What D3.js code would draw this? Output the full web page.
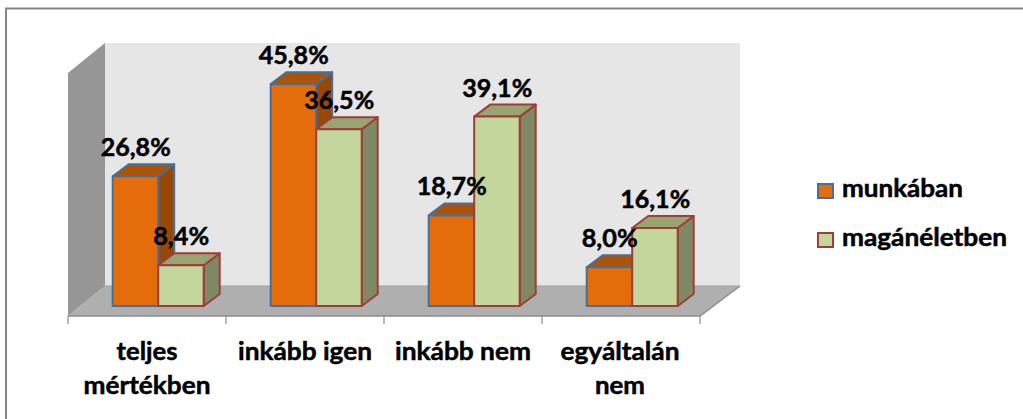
<!DOCTYPE html>
<html><head><meta charset="utf-8">
<script src="https://cdn.jsdelivr.net/npm/d3@7"></script>
<style>html,body{margin:0;background:#fff}svg{display:block}text{font-family:Lato,sans-serif;font-weight:700;fill:#000;stroke:#000;stroke-width:.5px}</style>
</head><body><svg id="c" width="1023" height="419"></svg>
<script>
const categories=[["teljes","mértékben"],["inkább igen"],["inkább nem"],["egyáltalán","nem"]];
const categoryCenters=[147,305,463,620];
const seriesNames=["munkában","magánéletben"];
const munkaban=[26.8,45.8,18.7,8.0];
const maganeletben=[8.4,36.5,39.1,16.1];
const labels1=["26,8%","45,8%","18,7%","8,0%"];
const labels2=["8,4%","36,5%","39,1%","16,1%"];
const svg=d3.select("#c");
const x=d3.scaleBand().domain(d3.range(4)).range([68,700]);
const y=d3.scaleLinear().domain([0,50]).range([306,63.8]);
const bw=45.5,ddx=16,ddy=12;
svg.append("path").attr("d","M6,419V8.5H1023").attr("fill","none").attr("stroke","#868686").attr("stroke-width",2);
const poly=(pts,f,s,sw)=>svg.append("polygon").attr("points",pts.map(p=>p.join(",")).join(" ")).attr("fill",f).attr("stroke",s||"none").attr("stroke-width",sw||0).attr("stroke-linejoin","round");
poly([[105,43],[740,43],[740,286],[105,286]],"#e6e6e6");
poly([[68,73],[105,43],[105,286],[68,316]],"#969696");
poly([[68,316],[105,286],[740,286],[700,316]],"#afafaf");
svg.append("path").attr("d","M68,316H700L740,286").attr("fill","none").attr("stroke","#8c8c8c").attr("stroke-width",1.5);
svg.append("path").attr("d","M105,286H740").attr("fill","none").attr("stroke","#a0a0a0");
d3.range(5).forEach(i=>{const px=i<4?x(i):x.range()[1];
 svg.append("line").attr("x1",px).attr("x2",px).attr("y1",316).attr("y2",324).attr("stroke","#8c8c8c").attr("stroke-width",1.2);});
function bar(x0,v,front,top,side,stroke){
 const t=y(v),b=y(0),x1=x0+bw;
 poly([[x1,t],[x1+ddx,t-ddy],[x1+ddx,b-ddy],[x1,b]],side,stroke,2);
 poly([[x0,t],[x0+ddx,t-ddy],[x1+ddx,t-ddy],[x1,t]],top,stroke,2);
 poly([[x0,t],[x1,t],[x1,b],[x0,b]],front,stroke,2);
}
d3.range(4).forEach(i=>{
 const g=x(i)+44.7;
 bar(g,munkaban[i],"#e46c0a","#ae5205","#974806","#43709f");
 bar(g+bw,maganeletben[i],"#c3d69b","#98a573","#7f8a64","#a03c3a");
});
const lab=(s,px,py,size,anchor,w)=>svg.append("text").attr("x",px).attr("y",py).attr("font-size",size).attr("text-anchor",anchor||"middle").attr("textLength",w||null).attr("lengthAdjust","spacingAndGlyphs").text(s);
const catWidths=[[61,127],[134],[136],[119,50]];
d3.range(4).forEach(i=>{
 const g=x(i)+44.7;
 lab(labels1[i],g+23,y(munkaban[i])-20,24.5,"middle",labels1[i].length==5?70:56);
 lab(labels2[i],g+bw+23,y(maganeletben[i])-20,24.5,"middle",labels2[i].length==5?70:56);
 categories[i].forEach((l,j)=>lab(l,categoryCenters[i],360+j*34,24,"middle",catWidths[i][j]));
});
[[seriesNames[0],"#e46c0a","#43709f",198,121],[seriesNames[1],"#c3d69b","#a03c3a",247,165]].forEach(d=>{
 svg.append("rect").attr("x",818).attr("y",d[3]-14).attr("width",15).attr("height",14).attr("fill",d[1]).attr("stroke",d[2]).attr("stroke-width",2);
 lab(d[0],842,d[3]-1,24,"start",d[4]);
});
</script></body></html>
